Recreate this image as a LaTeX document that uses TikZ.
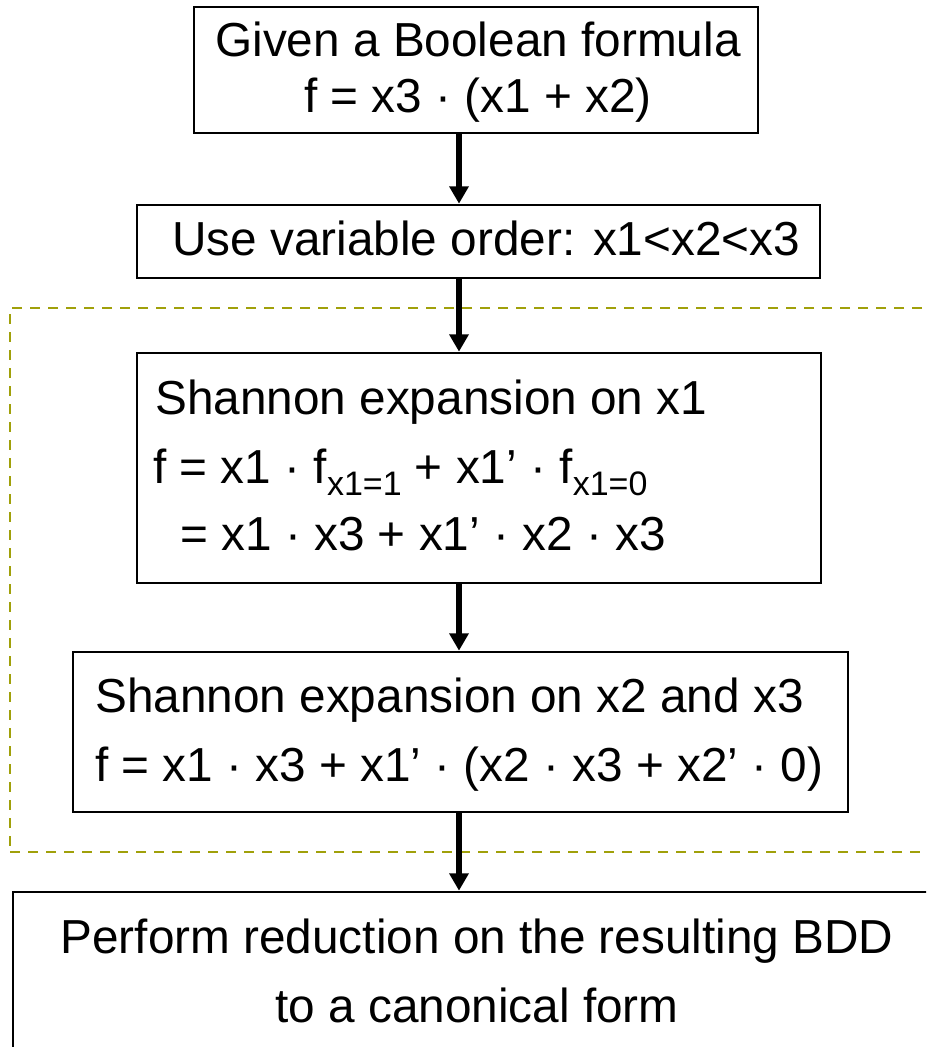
\documentclass[tikz,border=0pt]{standalone}
\usepackage{fontspec}
\setmainfont{Liberation Sans}
\usetikzlibrary{arrows.meta,fit}
\definecolor{dashcol}{RGB}{160,160,10}
\newcommand{\sbx}[1]{\raisebox{-9pt}{\fontsize{25.5}{25.5}\selectfont #1}}
\begin{document}
\begin{tikzpicture}[x=0.75pt,y=-0.75pt,
  box/.style={draw=black,line width=2pt,inner sep=0pt},
  txt/.style={inner sep=0pt,font=\fontsize{35.8}{43}\selectfont},
  arr/.style={line width=4pt,-{Triangle[width=14pt,length=13pt]}},
  grp/.style={draw=dashcol,line width=2pt,dash pattern=on 7.5pt off 6pt,inner sep=0pt}]
\useasboundingbox (0,0) rectangle (926,1047);
\clip (0,0) rectangle (926,1047);
% dashed group
\node[grp,fit={(10,308) (950,852)}] (grp) {};
% boxes
\node[box,fit={(194,7) (758,133)}] (b1) {};
\node[box,fit={(137,205) (820,278)}] (b2) {};
\node[box,fit={(137,353) (821,583)}] (b3) {};
\node[box,fit={(73,652) (848,812)}] (b4) {};
\node[box,fit={(13,892) (960,1100)}] (b5) {};
% texts
\node[txt,anchor=base] (t1a) at (478,56) {Given a Boolean formula};
\node[txt,anchor=base] (t1b) at (478,112) {f = x3 · (x1 + x2)};
\node[txt,anchor=base west] (t2) at (172,255) {Use variable order: x1<x2<x3};
\node[txt,anchor=base west] (t3a) at (155,414) {Shannon expansion on x1};
\node[txt,anchor=base west] (t3b) at (153,483) {f = x1 · f\sbx{x1=1} + x1’ · f\sbx{x1=0}};
\node[txt,anchor=base west] (t3c) at (180,550) {= x1 · x3 + x1’ · x2 · x3};
\node[txt,anchor=base west] (t4a) at (95,712) {Shannon expansion on x2 and x3};
\node[txt,anchor=base west] (t4b) at (95,781) {f = x1 · x3 + x1’ · (x2 · x3 + x2’ · 0)};
\node[txt,anchor=base] (t5a) at (477,953) {Perform reduction on the resulting BDD};
\node[txt,anchor=base] (t5b) at (477,1022) {to a canonical form};
% arrows
\coordinate (ax) at (459,0);
\draw[arr] (b1.south -| ax) -- (b2.north -| ax);
\draw[arr] (b2.south -| ax) -- (b3.north -| ax);
\draw[arr] (b3.south -| ax) -- (b4.north -| ax);
\draw[arr] (b4.south -| ax) -- (b5.north -| ax);
\end{tikzpicture}
\end{document}
